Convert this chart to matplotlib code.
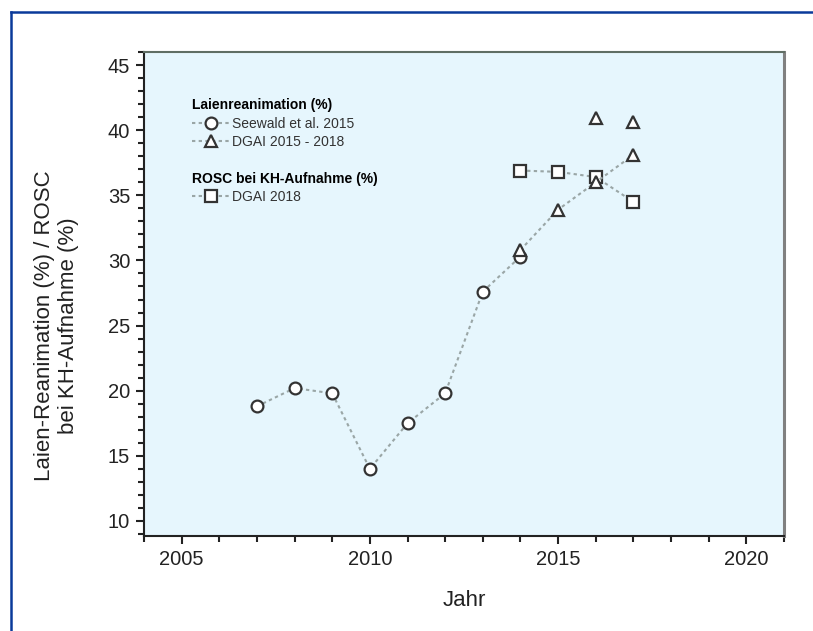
import matplotlib
matplotlib.use("Agg")
import matplotlib.pyplot as plt
from matplotlib.lines import Line2D
from matplotlib.ticker import MultipleLocator

plt.rcParams["font.family"] = ["Liberation Sans", "DejaVu Sans"]

# Laienreanimation - Seewald et al. 2015
seewald_years = [2007, 2008, 2009, 2010, 2011, 2012, 2013, 2014]
seewald_vals = [18.8, 20.2, 19.8, 14.0, 17.5, 19.8, 27.6, 30.3]

# Laienreanimation - DGAI 2015 - 2018
dgai_years = [2014, 2015, 2016, 2017]
dgai_vals = [30.8, 33.9, 36.0, 38.1]

# einzelne Werte ohne Verbindung
extra_years = [2016, 2017]
extra_vals = [40.9, 40.6]

# ROSC bei KH-Aufnahme - DGAI 2018
rosc_years = [2014, 2015, 2016, 2017]
rosc_vals = [36.9, 36.8, 36.4, 34.5]

line_col = "#9aa6a6"
edge_col = "#333333"
bg_col = "#e6f6fd"

style = dict(color=line_col, linestyle=(0, (1.6, 1.6)), linewidth=1.5,
             markersize=8.5, markerfacecolor="white", markeredgecolor=edge_col,
             markeredgewidth=1.6)

fig = plt.figure(figsize=(8.13, 6.31), dpi=100)
ax = fig.add_axes([0.1771, 0.1506, 0.7872, 0.767])
ax.set_facecolor(bg_col)

h1, = ax.plot(seewald_years, seewald_vals, marker="o", **style)
ax.plot(rosc_years, rosc_vals, marker="s", **style)
h2, = ax.plot(dgai_years, dgai_vals, marker="^", **style)
ax.plot(extra_years, extra_vals, marker="^", **{**style, "linestyle": "none"})
h3 = Line2D([], [], marker="s", **style)

ax.set_xlim(2004, 2021)
ax.set_ylim(8.85, 46)
ax.xaxis.set_major_locator(MultipleLocator(5))
ax.xaxis.set_minor_locator(MultipleLocator(1))
ax.yaxis.set_major_locator(MultipleLocator(5))
ax.yaxis.set_minor_locator(MultipleLocator(1))
ax.set_yticks(range(10, 50, 5))
ax.tick_params(which="both", direction="out", width=1.5, labelsize=14.5,
               colors="#222222", top=False, right=False)
ax.tick_params(which="major", length=6, pad=4)
ax.tick_params(which="minor", length=4)

ax.spines["left"].set_linewidth(1.5)
ax.spines["bottom"].set_linewidth(1.5)
ax.spines["left"].set_color("#222222")
ax.spines["bottom"].set_color("#222222")
ax.spines["top"].set_color("#5f6e64")
ax.spines["top"].set_linewidth(1.5)
ax.spines["right"].set_color("#808080")
ax.spines["right"].set_linewidth(2.2)

ax.set_xlabel("Jahr", fontsize=16, labelpad=15, color="#222222")
ax.set_ylabel("Laien-Reanimation (%) / ROSC\nbei KH-Aufnahme (%)", fontsize=16,
              color="#222222", linespacing=1.2)
ax.yaxis.set_label_coords(-0.102, 0.434)

leg_kw = dict(frameon=False, fontsize=10, title_fontsize=10, handlelength=2.7,
              handletextpad=0.2, labelspacing=0.3, alignment="left",
              borderaxespad=0, borderpad=0, loc="upper left")
leg1 = ax.legend([h1, h2], ["Seewald et al. 2015", "DGAI 2015 - 2018"],
                 title="Laienreanimation (%)", bbox_to_anchor=(0.075, 0.904), **leg_kw)
leg1.get_title().set_fontweight("bold")
ax.add_artist(leg1)
leg2 = ax.legend([h3], ["DGAI 2018"], title="ROSC bei KH-Aufnahme (%)",
                 bbox_to_anchor=(0.075, 0.752), **leg_kw)
leg2.get_title().set_fontweight("bold")
for t in leg1.get_texts() + leg2.get_texts():
    t.set_color("#333333")

# blauer Rahmen links und oben
fig.add_artist(Line2D([0.0135, 0.0135], [0, 0.981], color="#0a3a9a", linewidth=1.8,
                      transform=fig.transFigure))
fig.add_artist(Line2D([0.0135, 1.0], [0.981, 0.981], color="#0a3a9a", linewidth=1.8,
                      transform=fig.transFigure))

fig.savefig("out.png", dpi=100, facecolor="white")
